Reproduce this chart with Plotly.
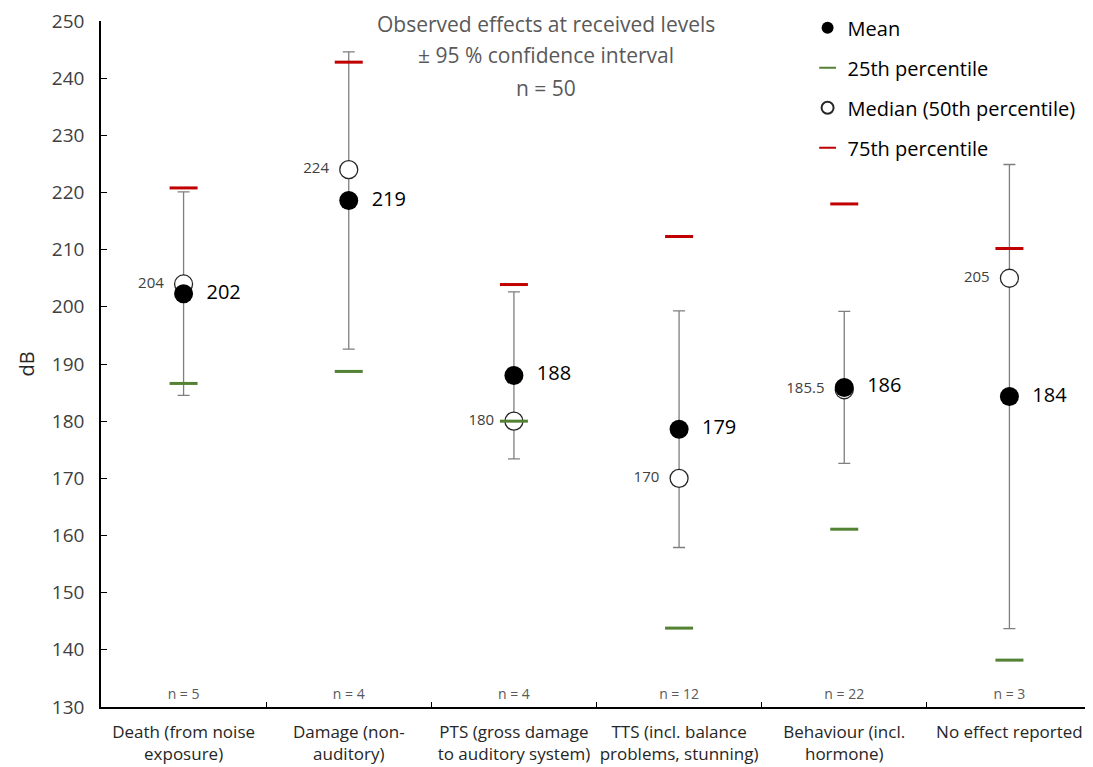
import plotly.graph_objects as go

categories = ["Death (from noise<br>exposure)", "Damage (non-<br>auditory)",
              "PTS (gross damage<br>to auditory system)", "TTS (incl. balance<br>problems, stunning)",
              "Behaviour (incl.<br>hormone)", "No effect reported"]
mean_vals = [202.3, 218.6, 188.0, 178.6, 185.9, 184.3]
ci_half = [17.8, 26.0, 14.6, 20.7, 13.3, 40.6]
median_vals = [204, 224, 180, 170, 185.5, 205]
p25_vals = [186.6, 188.7, 180.0, 143.8, 161.1, 138.2]
p75_vals = [220.8, 242.8, 203.9, 212.3, 218.0, 210.2]
n_labels = ["n = 5", "n = 4", "n = 4", "n = 12", "n = 22", "n = 3"]
n_label_y = [132.0] * 6
title_lines = ["Observed effects at received levels", "± 95 % confidence interval", "n = 50"]

FONT = "Open Sans, sans-serif"
RED = "#C00000"
GREEN = "#548235"

fig = go.Figure()

# confidence interval bars
fig.add_trace(go.Scatter(
    x=categories, y=mean_vals, mode="markers", showlegend=False, hoverinfo="skip",
    marker=dict(size=1, color="rgba(0,0,0,0)"),
    error_y=dict(type="data", array=ci_half, visible=True, color="#7f7f7f", thickness=1.3, width=6),
))

# median
fig.add_trace(go.Scatter(
    x=categories, y=median_vals, mode="markers+text", name="Median (50th percentile)",
    marker=dict(symbol="circle", size=18, color="white", line=dict(color="#262626", width=1.3)),
    text=[f"{v:g}\u2002" for v in median_vals], textposition="middle left",
    textfont=dict(size=15, color="#404040", family=FONT), legendrank=3, legendgroup="c",
))

# 25th percentile
fig.add_trace(go.Scatter(
    x=categories, y=p25_vals, mode="markers", name="25th percentile",
    marker=dict(symbol="line-ew", size=20, line=dict(color=GREEN, width=3)), legendrank=2, legendgroup="b",
))

# 75th percentile
fig.add_trace(go.Scatter(
    x=categories, y=p75_vals, mode="markers", name="75th percentile",
    marker=dict(symbol="line-ew", size=20, line=dict(color=RED, width=3)), legendrank=4, legendgroup="d",
))

# mean
fig.add_trace(go.Scatter(
    x=categories, y=mean_vals, mode="markers+text", name="Mean",
    marker=dict(symbol="circle", size=19, color="black"),
    text=[f"\u2002{v:.0f}" for v in mean_vals], textposition="middle right",
    textfont=dict(size=20, color="black", family=FONT), legendrank=1, legendgroup="a",
))

# n labels
fig.add_trace(go.Scatter(
    x=categories, y=n_label_y, mode="text", text=n_labels, showlegend=False, hoverinfo="skip",
    textfont=dict(size=14, color="#595959", family=FONT),
))

title_y = [0.995, 0.951, 0.902]
for line, ty in zip(title_lines, title_y):
    fig.add_annotation(text=line, xref="paper", yref="paper", x=0.449, y=ty,
                       xanchor="center", yanchor="middle", showarrow=False, borderpad=0,
                       font=dict(size=21, color="#595959", family=FONT))

fig.update_layout(
    width=1085, height=759,
    margin=dict(l=93, r=1, t=12, b=60),
    plot_bgcolor="white", paper_bgcolor="white",
    font=dict(family=FONT, color="#404040"),
    legend=dict(x=0.713, y=1.017, xanchor="left", yanchor="top",
                font=dict(size=20, color="black", family=FONT),
                bgcolor="rgba(255,255,255,0)", tracegroupgap=11, itemsizing="constant"),
    xaxis=dict(type="category", tickson="boundaries", ticks="inside", ticklen=5, tickcolor="black",
               showline=True, linecolor="black", linewidth=1.5, showgrid=False,
               ticklabelstandoff=9, tickangle=0, automargin=False,
               tickfont=dict(size=17, color="#262626", family=FONT), range=[-0.5, 5.5]),
    yaxis=dict(range=[130, 250], dtick=10, ticks="inside", ticklen=6, tickcolor="black",
               showline=True, linecolor="black", linewidth=1.5, showgrid=False, zeroline=False,
               ticklabelstandoff=11, automargin=False, ticklabeloverflow="allow",
               tickfont=dict(size=19, color="#404040", family=FONT),
               title=dict(text="dB", font=dict(size=20, color="#262626", family=FONT), standoff=12)),
)

fig.write_html("out.html")
